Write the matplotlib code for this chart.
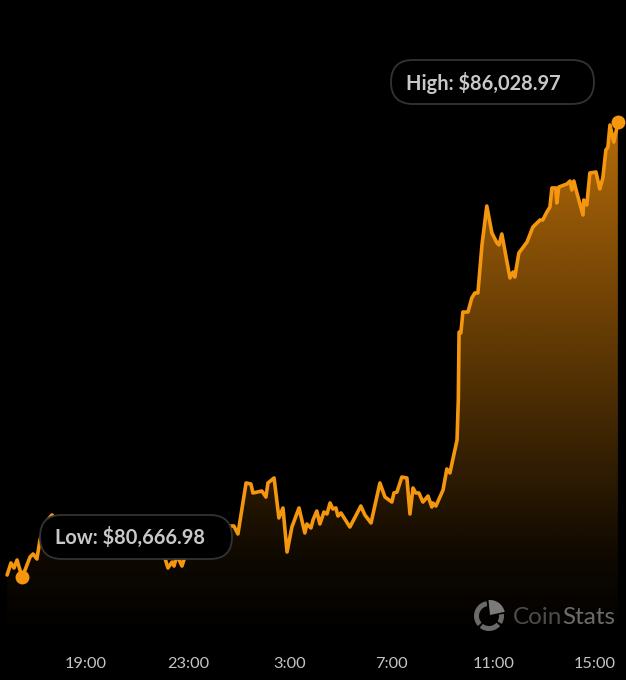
import numpy as np
import matplotlib as mpl
mpl.use('agg')

import matplotlib.pyplot as plt
from matplotlib.patches import FancyBboxPatch, Wedge

# hours since midnight of day one, price in USD
hours = [15.90, 16.05, 16.17, 16.29, 16.48, 16.56, 16.80, 16.92, 17.07, 17.19, 17.43, 17.66,
         17.98, 18.57, 19.16, 19.75, 20.34, 20.92, 21.51, 21.91, 22.10, 22.22, 22.38, 22.46,
         22.57, 22.77, 22.97, 23.28, 23.87, 24.34, 24.66, 24.81, 24.97, 25.29, 25.48, 25.56,
         25.91, 26.07, 26.15, 26.39, 26.58, 26.74, 26.90, 27.09, 27.37, 27.60, 27.68, 27.84,
         27.92, 28.07, 28.19, 28.35, 28.47, 28.59, 28.70, 28.82, 28.90, 29.02, 29.37, 29.80,
         29.96, 30.20, 30.55, 30.75, 31.02, 31.10, 31.22, 31.41, 31.61, 31.73, 31.85, 31.96,
         32.08, 32.24, 32.44, 32.59, 32.63, 32.75, 33.03, 33.18, 33.30, 33.58, 33.63, 33.66,
         33.73, 33.81, 34.01, 34.16, 34.28, 34.40, 34.56, 34.75, 34.95, 35.15, 35.23, 35.34,
         35.66, 35.78, 35.85, 36.01, 36.33, 36.56, 36.84, 36.95, 37.11, 37.23, 37.31, 37.46,
         37.50, 37.58, 37.90, 38.02, 38.09, 38.17, 38.29, 38.53, 38.56, 38.68, 38.80, 39.04,
         39.19, 39.31, 39.43, 39.51, 39.59, 39.74, 39.86, 39.90]
prices = [80685, 80827, 80768, 80862, 80666.98, 80709, 80897, 80933, 80874, 81098, 81310, 81393,
          81310, 81275, 81216, 81240, 81157, 81098, 81039, 80980, 80886, 80768, 80838, 80791,
          80921, 80791, 80980, 81098, 81216, 81275, 81263, 81263, 81169, 81771, 81759, 81653,
          81676, 81605, 81771, 81830, 81358, 81476, 80956, 81251, 81476, 81181, 81287, 81240,
          81334, 81440, 81287, 81428, 81405, 81535, 81464, 81476, 81381, 81417, 81251, 81499,
          81393, 81299, 81771, 81605, 81546, 81653, 81664, 81841, 81830, 81405, 81712, 81653,
          81653, 81546, 81617, 81487, 81535, 81499, 81688, 81936, 81889, 82278, 82750, 83552,
          83541, 83788, 83788, 83954, 84013, 84013, 84579, 85039, 84721, 84603, 84579, 84709,
          84190, 84260, 84201, 84485, 84614, 84791, 84874, 84874, 84968, 85027, 85252, 85252,
          85075, 85263, 85299, 85334, 85228, 85334, 85193, 84933, 85110, 85051, 85429, 85440,
          85240, 85370, 85700, 85735, 85995, 85794, 85960, 86028.97]

tick_hours = [19, 23, 27, 31, 35, 39]
tick_labels = ['19:00', '23:00', '3:00', '7:00', '11:00', '15:00']

ORANGE = '#F5960F'
FONT = 'Lato'

fig = plt.figure(figsize=(6.26, 6.80), dpi=100, facecolor='black')
ax = fig.add_axes([0, 40 / 680, 1, 640 / 680], facecolor='black')
ax.set_xlim(15.62, 40.22)
ax.set_ylim(79918, 87470)

# gradient under the line
ramp = np.zeros((256, 1, 4))
ramp[:, 0, 0] = 245 / 255
ramp[:, 0, 1] = 145 / 255
ramp[:, 0, 2] = 12 / 255
ramp[:, 0, 3] = np.interp(np.linspace(0, 1, 256), [0, 0.87, 1], [0.74, 0.06, 0.015])
im = ax.imshow(ramp, extent=(hours[0], hours[-1], 80095, max(prices)), aspect='auto', zorder=1)
poly = ax.fill_between(hours, prices, 79918, color='none')
im.set_clip_path(poly.get_paths()[0], transform=ax.transData)
ax.set_xlim(15.62, 40.22)
ax.set_ylim(79918, 87470)

ax.plot(hours, prices, color=ORANGE, lw=2.6, solid_joinstyle='round', solid_capstyle='round',
        zorder=3, clip_on=False)

low_i = int(np.argmin(prices))
high_i = int(np.argmax(prices))
ax.plot(hours[low_i], prices[low_i], 'o', color=ORANGE, ms=10, mew=0, zorder=4)
ax.plot(hours[high_i], prices[high_i], 'o', color=ORANGE, ms=10, mew=0, zorder=4, clip_on=False)

for s in ax.spines.values():
    s.set_visible(False)
ax.set_yticks([])
ax.set_xticks(tick_hours)
ax.set_xticklabels(tick_labels, fontfamily=FONT, fontsize=11.8, color='#c4c4c4')
ax.tick_params(axis='x', length=0, pad=12)

# overlay in pixel coordinates for the pills and the logo
over = fig.add_axes([0, 0, 1, 1])
over.set_xlim(0, 626)
over.set_ylim(0, 680)
over.axis('off')
over.patch.set_alpha(0)


def pill(x0, x1, ytop, ybottom, text):
    h = ybottom - ytop
    box = FancyBboxPatch((x0 + h / 2, 680 - ybottom + h / 2), x1 - x0 - h, 0,
                         boxstyle='round,pad=%f,rounding_size=%f' % (h / 2, h / 2),
                         fc='black', ec='#333333', lw=1.3, zorder=5)
    over.add_patch(box)
    over.text(x0 + 15, 680 - (ytop + ybottom) / 2 - 0.5, text, color='#c8c8c8', fontfamily=FONT,
              fontweight='bold', fontsize=14.4, va='center', ha='left', zorder=6)


pill(391, 594, 60, 104, 'High: ${:,.2f}'.format(prices[high_i]))
pill(40, 232, 515, 559, 'Low: ${:,.2f}'.format(prices[low_i]))

# CoinStats logo and wordmark
cx, cy = 489, 680 - 616
over.add_patch(Wedge((cx, cy), 15, 0, 360, width=5, fc='#6a6a6a', ec='none', zorder=5))
over.add_patch(Wedge((cx, cy), 16, 8, 100, fc='black', ec='none', zorder=6))
over.add_patch(Wedge((cx + 1, cy + 1), 15, 12, 96, fc='#7a7a7a', ec='none', zorder=7))
over.add_patch(Wedge((cx, cy), 16, 222, 232, fc='black', ec='none', zorder=6))
over.add_patch(Wedge((cx, cy), 16, 318, 328, fc='black', ec='none', zorder=6))
t = over.text(513, 680 - 617, 'Coin', color='#4c4c4c', fontfamily=FONT, fontweight='normal',
              fontsize=17.5, va='center', ha='left', zorder=6)
over.annotate('Stats', xycoords=t, xy=(1, 0), va='bottom', ha='left', color='#6c6c6c',
              fontfamily=FONT, fontweight='normal', fontsize=17.5, zorder=6)

fig.savefig('out.png', dpi=100, facecolor='black')
